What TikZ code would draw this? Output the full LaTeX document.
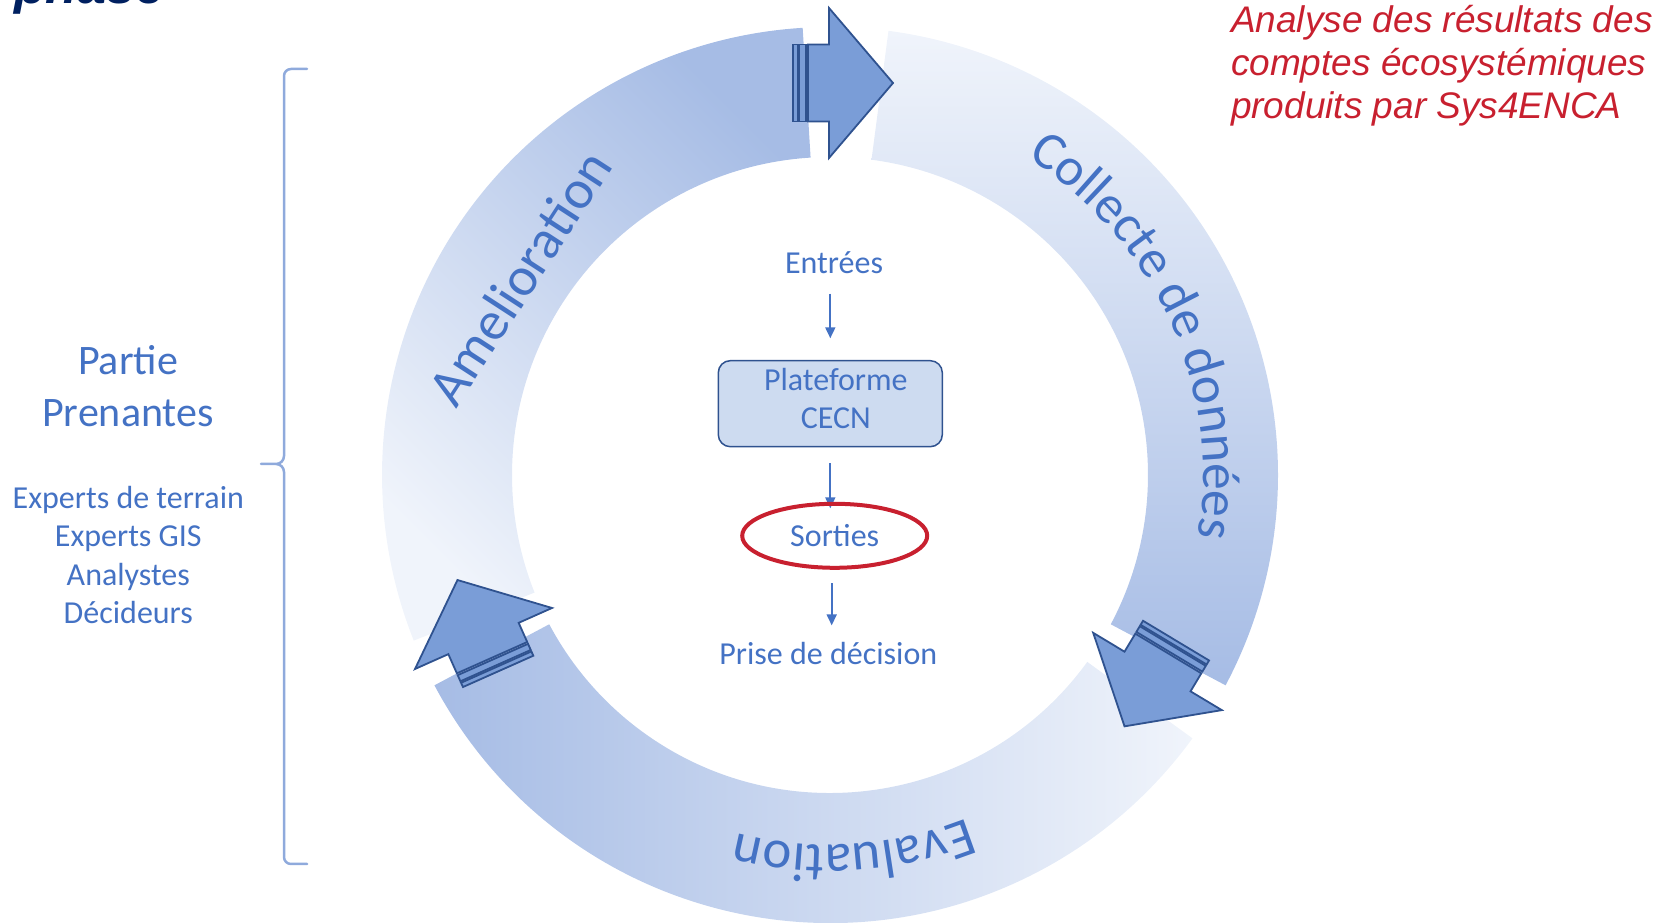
\documentclass[tikz,border=0pt]{standalone}
\usepackage{fontspec}
\setmainfont{Carlito}
\newfontfamily\arialfont{Liberation Sans}
\usetikzlibrary{decorations.text,arrows.meta,shapes.geometric}
\pgfdeclarelayer{front}
\pgfsetlayers{main,front}
\definecolor{txtblue}{HTML}{4472C4}
\definecolor{seglight}{HTML}{F0F4FB}
\definecolor{segdark}{HTML}{A6BCE5}
\definecolor{arrfill}{HTML}{7A9DD7}
\definecolor{arrdraw}{HTML}{2F528F}
\definecolor{boxfill}{HTML}{CDDBF0}
\definecolor{redc}{HTML}{C8202F}
\definecolor{bracec}{HTML}{8FAADC}
\definecolor{navyc}{HTML}{002060}
\tikzset{
  blockarrow/.style={fill=arrfill, draw=arrdraw, line width=1.8pt, line join=miter},
  stripedarrow/.pic={
    \path[blockarrow] (-36,38.5) rectangle (-31.3,-38.5);
    \path[blockarrow] (-29.7,38.5) rectangle (-23,-38.5);
    \path[blockarrow] (-21,38.5) -- (0,38.5) -- (0,75) -- (64,0) -- (0,-75) -- (0,-38.5) -- (-21,-38.5) -- cycle;
  },
  ctext/.style={text=txtblue, font=\fontsize{32}{38}\selectfont, inner sep=0pt, outer sep=0pt, anchor=base},
  ltext/.style={ctext, font=\fontsize{42}{50}\selectfont},
  bigtext/.style={ctext, font=\fontsize{55}{66}\selectfont},
  redtext/.style={text=redc, font=\arialfont\itshape\fontsize{37}{43}\selectfont, inner sep=0pt, outer sep=0pt, anchor=base west},
  conn/.style={draw=txtblue, line width=1.8pt, -{Triangle[length=11pt, width=10pt]}},
  bracestyle/.style={draw=bracec, line width=2.5pt, line join=round, line cap=round},
  platebox/.style={draw=arrdraw, fill=boxfill, rounded corners=12pt, line width=1.5pt, minimum width=224pt, minimum height=86pt, inner sep=0pt, outer sep=0pt},
  redring/.style={ellipse, draw=redc, line width=4pt, minimum width=185pt, minimum height=64pt, inner sep=0pt, outer sep=0pt, text=txtblue, font=\fontsize{32}{38}\selectfont},
}
\begin{document}
\begin{tikzpicture}[x=1pt,y=1pt]
\useasboundingbox (0,0) rectangle (1673,923);
\clip (0,0) rectangle (1673,923);

% cut-off title
\node[text=navyc, font=\arialfont\bfseries\itshape\fontsize{52}{60}\selectfont, inner sep=0pt, anchor=base west] (phase) at (14,919) {phase};

% ring segments
\begin{scope}[shift={(830,448)}]
  % Amelioration
  \shade[top color=segdark, bottom color=seglight, shading angle=-45]
    (93.5:448) arc[start angle=93.5, end angle=201.7, radius=448]
    -- (201.7:318) arc[start angle=201.7, end angle=93.5, radius=318] -- cycle;
  % Collecte
  \shade[top color=seglight, bottom color=segdark]
    (-28:448) arc[start angle=-28, end angle=82.5, radius=448]
    -- (82.5:318) arc[start angle=82.5, end angle=-28, radius=318] -- cycle;
  % Evaluation
  \shade[left color=segdark, right color=seglight]
    (208:448) arc[start angle=208, end angle=324, radius=448]
    -- (324:318) arc[start angle=324, end angle=208, radius=318] -- cycle;

  % curved labels
  \path[decorate, decoration={text along path, text align=center,
      text={|\fontsize{53.5}{60}\selectfont\color{txtblue}|Collecte de données}}]
    (69.3:373) arc[start angle=69.3, end angle=-20.7, radius=373];
  \path[decorate, decoration={text along path, text align=center,
      text={|\fontsize{55}{60}\selectfont\color{txtblue}|Evaluation}}]
    (313.6:370) arc[start angle=313.6, end angle=233.6, radius=370];
\end{scope}

% striped block arrows
\pic[rotate=0] at (829,840) {stripedarrow};
\pic[rotate=239] at (1157.5,251.5) {stripedarrow};
\pic[rotate=114] at (483.5,284.5) {stripedarrow};

% straight label
\node[bigtext, rotate=57] (amel) at (535,635) {Amelioration};

% central flow
\node[ctext] (entrees) at (834,649.7) {Entrées};
\node[platebox] (cecn) at (830.3,519.3) {};
\node[ctext] (plat1) at (835.8,532) {Plateforme};
\node[ctext] (plat2) at (835.8,494.5) {CECN};
\begin{pgfonlayer}{front}
\node[redring] (sorties) at (834.7,387.2) {Sorties};
\end{pgfonlayer}
\node[ctext] (prise) at (828.3,258.4) {Prise de décision};

\draw[conn, shorten <=20pt, shorten >=22.4pt] (entrees.south -| cecn.north) -- (cecn.north);
\draw[conn, shorten <=16.6pt, shorten >=-4.5pt] (cecn.south) -- (sorties.north -| cecn.south);
\draw[conn, shorten <=15.5pt, shorten >=17pt] ([xshift=-3pt]sorties.south) -- ([xshift=-3pt]sorties.south |- prise.north);

% left side
\node[ltext] (partie) at (128,548) {Partie};
\node[ltext] (prenantes) at (128,496) {Prenantes};
\node[ctext] (exp1) at (128.3,414.7) {Experts de terrain};
\node[ctext] (exp2) at (128.3,376.3) {Experts GIS};
\node[ctext] (exp3) at (128.3,337.9) {Analystes};
\node[ctext] (exp4) at (128.3,299.5) {Décideurs};

\draw[bracestyle] (307,854) -- (291,854) to[out=180,in=90] (284,847) -- (284,467)
  to[out=-90,in=0] (276,459) -- (261,459) -- (276,459) to[out=0,in=90] (284,451)
  -- (284,66) to[out=-90,in=180] (291,59) -- (307,59);

% red note
\node[redtext] (note1) at (1231,890) {Analyse des résultats des};
\node[redtext] (note2) at (1231,847) {comptes écosystémiques};
\node[redtext] (note3) at (1231,804) {produits par Sys4ENCA};
\end{tikzpicture}
\end{document}
